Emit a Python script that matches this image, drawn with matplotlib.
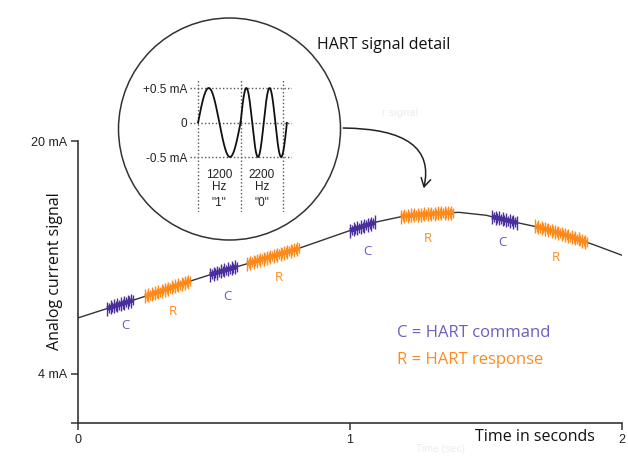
import numpy as np
import matplotlib
matplotlib.use("Agg")
import matplotlib.pyplot as plt
from matplotlib.patches import Circle, FancyArrowPatch

# ---------------- data ----------------
time_s = [0.0, 0.1, 0.2, 0.3, 0.4, 0.5, 0.6, 0.7, 0.8, 0.9, 1.0,
          1.1, 1.2, 1.3, 1.4, 1.5, 1.6, 1.7, 1.8, 1.9, 2.0]
current_mA = [7.85, 8.45, 9.05, 9.65, 10.3, 10.9, 11.45, 12.0, 12.55, 13.2, 13.85,
              14.45, 14.85, 15.0, 15.1, 14.9, 14.45, 14.05, 13.5, 12.85, 12.15]

burst_kind = ["C", "R", "C", "R", "C", "R", "C", "R"]
burst_start = [0.107, 0.246, 0.485, 0.621, 1.00, 1.187, 1.522, 1.68]
burst_end = [0.202, 0.412, 0.585, 0.813, 1.092, 1.379, 1.614, 1.871]
label_t = [0.173, 0.349, 0.548, 0.739, 1.063, 1.287, 1.559, 1.757]
label_mA = [7.30, 8.26, 9.29, 10.59, 12.38, 13.27, 13.06, 11.97]

x_ticks = [0, 1, 2]
x_tick_labels = ["0", "1", "2"]
y_ticks = [4, 20]
y_tick_labels = ["4 mA", "20 mA"]

# HART FSK detail
bit_freqs_hz = [1200, 2200]
bit_labels = ['"1"', '"0"']
detail_ticks = [0.5, 0, -0.5]
detail_tick_labels = ["+0.5 mA", "0", "-0.5 mA"]
baud = 1200

# ---------------- style ----------------
W, H = 628, 457
DARK = "#333333"
PURPLE = "#4a2f9c"
PURPLE_TXT = "#6a58c0"
ORANGE = "#ff8a1c"
MAIN_FONT = "Open Sans"
TICK_FONT = "Liberation Sans"


def px_rect(x0, y0, x1, y1):
    return [x0 / W, 1 - y1 / H, (x1 - x0) / W, (y1 - y0) / H]


fig = plt.figure(figsize=(W / 100, H / 100), dpi=100)
fig.patch.set_facecolor("white")

# ---------------- main axes ----------------
ax = fig.add_axes(px_rect(78, 141, 622, 423))
ax.set_xlim(0, 2)
ymin = 0.63
ax.set_ylim(ymin, 20)
for s in ["top", "right"]:
    ax.spines[s].set_visible(False)
for s in ["left", "bottom"]:
    ax.spines[s].set_color(DARK)
    ax.spines[s].set_linewidth(1.2)

ax.set_xticks(x_ticks)
ax.set_xticklabels(x_tick_labels, fontfamily=TICK_FONT, fontsize=9)
ax.set_yticks(y_ticks)
ax.set_yticklabels(y_tick_labels, fontfamily=TICK_FONT, fontsize=9)
ax.set_yticks([ymin], minor=True)
ax.tick_params(which="both", direction="out", length=5, width=1.1, color=DARK,
               labelcolor="#222222", pad=3)

ax.plot(time_s, current_mA, color=DARK, lw=1.0, zorder=2)

for kind, t0, t1 in zip(burst_kind, burst_start, burst_end):
    col = PURPLE if kind == "C" else ORANGE
    n = int((t1 - t0) * 272 / 1.6)
    tt = np.linspace(t0, t1, n)
    yy = np.interp(tt, time_s, current_mA)
    ax.plot(tt, yy, color=col, lw=3.5, solid_capstyle="butt", zorder=3)
    ax.plot(tt[::2], yy[::2], ls="none", marker="|", ms=9.5, mew=1.0, color=col, zorder=3)
    ax.plot(tt[1::2], yy[1::2], ls="none", marker="|", ms=7.5, mew=1.0, color=col, zorder=3)

for kind, t, v in zip(burst_kind, label_t, label_mA):
    col = PURPLE_TXT if kind == "C" else ORANGE
    ax.text(t, v, kind, color=col, fontsize=9.5, fontfamily=MAIN_FONT,
            ha="center", va="center")

ax.set_ylabel("Analog current signal", fontfamily=MAIN_FONT, fontsize=11.5, color="#111111")
ax.yaxis.label.set_va("center")
ax.yaxis.set_label_coords((55 - 78) / 544, (423 - 271) / 282)
ax.set_xlabel("Time in seconds", fontfamily=MAIN_FONT, fontsize=11.5, color="#111111")
ax.xaxis.label.set_ha("right")
ax.xaxis.label.set_va("center")
ax.xaxis.set_label_coords((595 - 78) / 544, (423 - 437) / 282)

# legend texts
ax.text((397 - 78) / 544, (423 - 333) / 282, "C = HART command", transform=ax.transAxes,
        color="#6d5fc0", fontsize=12, fontfamily=MAIN_FONT, ha="left", va="center")
ax.text((397 - 78) / 544, (423 - 360) / 282, "R = HART response", transform=ax.transAxes,
        color=ORANGE, fontsize=12, fontfamily=MAIN_FONT, ha="left", va="center")

# ---------------- overlay (pixel coordinates) ----------------
ov = fig.add_axes([0, 0, 1, 1], zorder=5)
ov.set_xlim(0, W)
ov.set_ylim(H, 0)
ov.axis("off")
ov.patch.set_alpha(0)

ov.add_patch(Circle((229.5, 129), 111, facecolor="white", edgecolor=DARK, lw=1.1))
ov.text(317, 45, "HART signal detail", fontfamily=MAIN_FONT, fontsize=11.5,
        color="#111111", ha="left", va="center")
ov.text(382, 113, "r signal", fontfamily=TICK_FONT, fontsize=8, color="#ececec",
        ha="left", va="center")
ov.text(416, 449, "Time (sec)", fontfamily=TICK_FONT, fontsize=7.5, color="#ececec",
        ha="left", va="center")
arrow = FancyArrowPatch((340.5, 128), (423, 191),
                        connectionstyle="angle3,angleA=0,angleB=75",
                        arrowstyle="->,head_length=6,head_width=3.5",
                        color="#222222", lw=1.1, mutation_scale=1)
ov.add_patch(arrow)

# ---------------- HART detail inset ----------------
ins = fig.add_axes(px_rect(190, 80, 292, 212), zorder=6)
ins.patch.set_alpha(0)
ins.set_xlim(-0.19, 2.21)
ins.set_ylim(-1.297, 0.616)
for s in ins.spines.values():
    s.set_visible(False)
ins.set_xticks([])
ins.set_yticks(detail_ticks)
ins.set_yticklabels(detail_tick_labels, fontfamily=TICK_FONT, fontsize=8.5, color="#222222")
ins.tick_params(axis="y", length=0, pad=2)
for v in detail_ticks:
    ins.axhline(v, color="#555555", lw=1, ls=(0, (1, 1.6)))
for b in range(len(bit_freqs_hz) + 1):
    ins.axvline(b, color="#555555", lw=1, ls=(0, (1, 1.6)))

# FSK waveform: phase-continuous, bit width = 1 / baud
phase = 0.0
for i, f in enumerate(bit_freqs_hz):
    x_end = i + 1 if i < len(bit_freqs_hz) - 1 else i + 1.09
    xb = np.linspace(i, x_end, 200)
    cycles = f / baud
    yb = 0.5 * np.sin(phase + 2 * np.pi * cycles * (xb - i))
    ins.plot(xb, yb, color="#111111", lw=1.3)
    phase = phase + 2 * np.pi * cycles
    ins.text(i + 0.5, -0.76, f"{f}", fontfamily=TICK_FONT, fontsize=8.5,
             ha="center", va="center", color="#222222")
    ins.text(i + 0.5, -0.93, "Hz", fontfamily=TICK_FONT, fontsize=8.5,
             ha="center", va="center", color="#222222")
    ins.text(i + 0.5, -1.16, bit_labels[i], fontfamily=TICK_FONT, fontsize=8.5,
             ha="center", va="center", color="#222222")

fig.savefig("out.png", dpi=100, facecolor="white")
